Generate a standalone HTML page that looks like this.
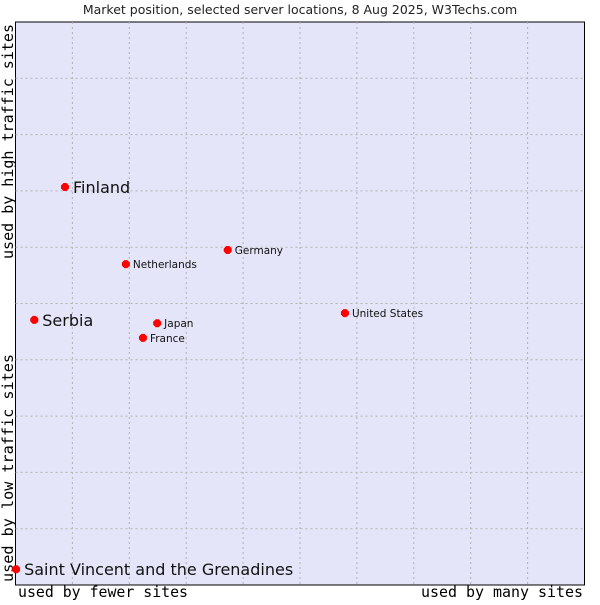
<!DOCTYPE html>
<html><head><meta charset="utf-8"><style>
body{margin:0;background:#fff;width:600px;height:600px;overflow:hidden}
</style></head><body>
<svg width="600" height="600" xmlns="http://www.w3.org/2000/svg">
<rect x="0" y="0" width="600" height="600" fill="#fff"/>
<text x="300" y="14" text-anchor="middle" font-family="DejaVu Sans, sans-serif" font-size="12.5" fill="#222">Market position, selected server locations, 8 Aug 2025, W3Techs.com</text>
<rect x="15.5" y="22" width="569" height="563" fill="#e4e5f8" stroke="#000" stroke-width="1"/>
<g id="grid"></g>
<text x="18" y="597" textLength="170" lengthAdjust="spacingAndGlyphs" font-family="DejaVu Sans Mono, monospace" font-size="15" fill="#000">used by fewer sites</text>
<text x="421" y="597" textLength="162" lengthAdjust="spacingAndGlyphs" font-family="DejaVu Sans Mono, monospace" font-size="15" fill="#000">used by many sites</text>
<text transform="translate(13,582) rotate(-90)" textLength="228" lengthAdjust="spacingAndGlyphs" font-family="DejaVu Sans Mono, monospace" font-size="15" fill="#000">used by low traffic sites</text>
<text transform="translate(13,259) rotate(-90)" textLength="235" lengthAdjust="spacingAndGlyphs" font-family="DejaVu Sans Mono, monospace" font-size="15" fill="#000">used by high traffic sites</text>
<g id="points"></g>
</svg>
<script>
const names=["Finland","Serbia","Saint Vincent and the Grenadines","Netherlands","Germany","United States","Japan","France"];
const xVals=[8.7,3.3,0.1,19.4,37.3,57.9,24.9,22.4];
const yVals=[70.7,47.1,2.8,57.0,59.5,48.3,46.5,43.9];
const bigLabel=[true,true,true,false,false,false,false,false];
const L=15.5,R=584.5,T=22,B=585;
const sx=v=>L+v/100*(R-L);
const sy=v=>B-v/100*(B-T);
const NS="http://www.w3.org/2000/svg";
const g=document.getElementById('grid');
for(let i=1;i<10;i++){
 const v=document.createElementNS(NS,'line');
 
 
 v.setAttribute('x1',sx(i*10));v.setAttribute('x2',sx(i*10));v.setAttribute('y1',T);v.setAttribute('y2',B);
 v.setAttribute('stroke','#b4b4b4');v.setAttribute('stroke-dasharray','2,3');g.appendChild(v);
 const h=document.createElementNS(NS,'line');
 
 
 h.setAttribute('y1',sy(i*10));h.setAttribute('y2',sy(i*10));h.setAttribute('x1',L);h.setAttribute('x2',R);
 h.setAttribute('stroke','#b4b4b4');h.setAttribute('stroke-dasharray','2,3');g.appendChild(h);
}
const p=document.getElementById('points');
names.forEach((n,i)=>{
 const x=sx(xVals[i]),y=sy(yVals[i]);
 const c=document.createElementNS(NS,'polygon');
 
 
 c.setAttribute('points',`${x-4},${y-1.5} ${x-1.5},${y-4} ${x+1.5},${y-4} ${x+4},${y-1.5} ${x+4},${y+1.5} ${x+1.5},${y+4} ${x-1.5},${y+4} ${x-4},${y+1.5}`);
 c.setAttribute('fill','#f00');p.appendChild(c);
 const t=document.createElementNS(NS,'text');
 
 
 t.setAttribute('x',x+(bigLabel[i]?8:7));
 t.setAttribute('y',y+(bigLabel[i]?6:4));
 t.setAttribute('font-family','DejaVu Sans, sans-serif');
 t.setAttribute('font-size',bigLabel[i]?'16':'10.5');
 t.setAttribute('fill','#111');
 t.textContent=n;p.appendChild(t);
});
</script>
</body></html>
